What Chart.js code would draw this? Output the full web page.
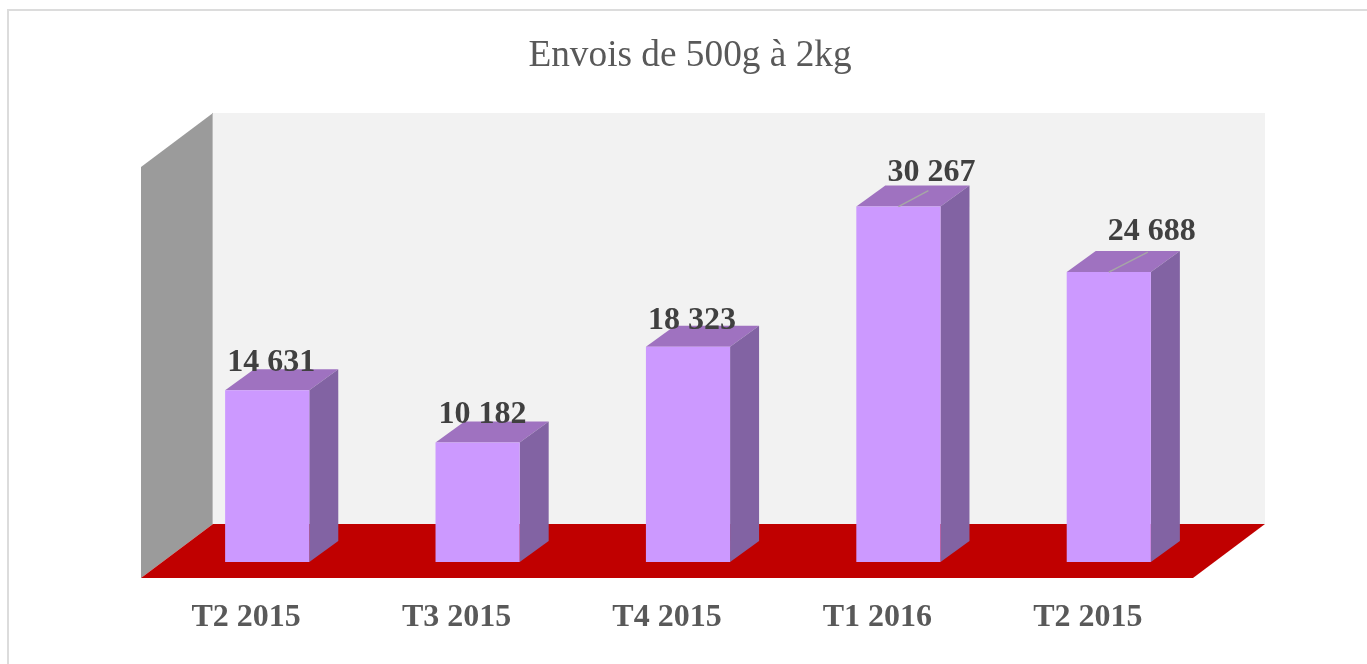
<!DOCTYPE html>
<html>
<head>
<meta charset="utf-8">
<title>Envois de 500g à 2kg</title>
<script src="https://cdn.jsdelivr.net/npm/chart.js@4"></script>
<style>
  html, body { margin: 0; height: 100%; background: #fff; overflow: hidden; }
  #card { position: absolute; left: 7px; top: 9px; width: 1500px; height: 800px; border: 2px solid #dcdcdc; background: #fff; }
  #wrap { position: absolute; left: 0; top: 0; width: 1367px; height: 664px; }
</style>
</head>
<body>
<div id="card"></div>
<div id="wrap"><canvas id="chart" width="1367" height="664"></canvas></div>
<script>
// données
const quarters = ['T2 2015', 'T3 2015', 'T4 2015', 'T1 2016', 'T2 2015'];
const envois   = [14631, 10182, 18323, 30267, 24688];
const yMax     = 35000;

// décalage des étiquettes par rapport au haut de la barre
const labelDx = [4, 5, 4, 33, 43];
const labelDy = [-27, -28, -26, -34, -40];
// traits de rappel (0 = pas de trait)
const leaderDx = [0, 0, 0, 30, 39];
const leaderDy = [0, 0, 0, -16, -20];

const SERIF = '"Liberation Serif", "Times New Roman", serif';

// profondeur du pseudo 3D
const FRONT = { x: -21, y: 16 };   // bord avant du sol
const BACK  = { x: 51,  y: -38 };  // mur du fond
const BAR   = { x: 29,  y: -21 };  // profondeur des barres

function poly(ctx, pts, color) {
  ctx.fillStyle = color;
  ctx.beginPath();
  pts.forEach((p, i) => i ? ctx.lineTo(p[0], p[1]) : ctx.moveTo(p[0], p[1]));
  ctx.closePath();
  ctx.fill();
}

const fake3d = {
  id: 'fake3d',
  beforeDatasetsDraw(chart) {
    const { ctx, chartArea: a } = chart;
    // mur du fond
    poly(ctx, [
      [a.left + BACK.x, a.top + BACK.y], [a.right + BACK.x, a.top + BACK.y],
      [a.right + BACK.x, a.bottom + BACK.y], [a.left + BACK.x, a.bottom + BACK.y]
    ], '#f2f2f2');
    // mur gauche
    poly(ctx, [
      [a.left + FRONT.x, a.top + FRONT.y], [a.left + BACK.x, a.top + BACK.y],
      [a.left + BACK.x, a.bottom + BACK.y], [a.left + FRONT.x, a.bottom + FRONT.y]
    ], '#9b9b9b');
    ctx.strokeStyle = '#bdbdbd';
    ctx.lineWidth = 1;
    ctx.beginPath();
    ctx.moveTo(a.left + BACK.x - 0.5, a.top + BACK.y);
    ctx.lineTo(a.left + BACK.x - 0.5, a.bottom + BACK.y);
    ctx.stroke();
    // sol
    poly(ctx, [
      [a.left + FRONT.x, a.bottom + FRONT.y], [a.left + BACK.x, a.bottom + BACK.y],
      [a.right + BACK.x, a.bottom + BACK.y], [a.right + FRONT.x, a.bottom + FRONT.y]
    ], '#c00000');
    // faces des barres
    chart.getDatasetMeta(0).data.forEach(bar => {
      const l = bar.x - bar.width / 2, r = bar.x + bar.width / 2;
      poly(ctx, [[l, bar.y], [l + BAR.x, bar.y + BAR.y], [r + BAR.x, bar.y + BAR.y], [r, bar.y]], '#9f72c0');
      poly(ctx, [[r, bar.y], [r + BAR.x, bar.y + BAR.y], [r + BAR.x, bar.base + BAR.y], [r, bar.base]], '#8263a3');
    });
  },
  afterDatasetsDraw(chart) {
    const { ctx } = chart;
    chart.getDatasetMeta(0).data.forEach((bar, i) => {
      if (leaderDx[i]) {
        ctx.strokeStyle = '#a6a6a6';
        ctx.lineWidth = 1.5;
        ctx.beginPath();
        ctx.moveTo(bar.x, bar.y);
        ctx.lineTo(bar.x + leaderDx[i], bar.y + leaderDy[i]);
        ctx.stroke();
      }
      ctx.fillStyle = '#404040';
      ctx.font = 'bold 32px ' + SERIF;
      ctx.textAlign = 'center';
      ctx.textBaseline = 'middle';
      const txt = String(envois[i]).replace(/\B(?=(\d{3})+$)/g, ' ');
      ctx.fillText(txt, bar.x + labelDx[i], bar.y + labelDy[i]);
    });
  }
};

new Chart(document.getElementById('chart'), {
  type: 'bar',
  data: {
    labels: quarters,
    datasets: [{
      data: envois,
      backgroundColor: '#cc99ff',
      borderWidth: 0,
      barPercentage: 0.4,
      categoryPercentage: 1
    }]
  },
  options: {
    responsive: false,
    animation: false,
    layout: { padding: { left: 162, right: 149, top: 0, bottom: 0 } },
    plugins: {
      legend: { display: false },
      tooltip: { enabled: false },
      title: {
        display: true,
        text: 'Envois de 500g à 2kg',
        color: '#595959',
        font: { family: SERIF, size: 37.3, weight: 'normal' },
        padding: { top: 34, bottom: 72.2 }
      }
    },
    scales: {
      x: {
        grid: { display: false },
        border: { display: false },
        afterFit(scale) { scale.height = 102; },
        ticks: {
          color: '#595959',
          labelOffset: -21,
          padding: 29,
          maxRotation: 0,
          font: { family: SERIF, size: 32, weight: 'bold' }
        }
      },
      y: {
        position: 'right',
        min: 0,
        max: yMax,
        grid: { display: false },
        border: { display: false },
        ticks: { display: false },
        afterFit(scale) { scale.width = 4; }
      }
    }
  },
  plugins: [fake3d]
});
</script>
</body>
</html>
